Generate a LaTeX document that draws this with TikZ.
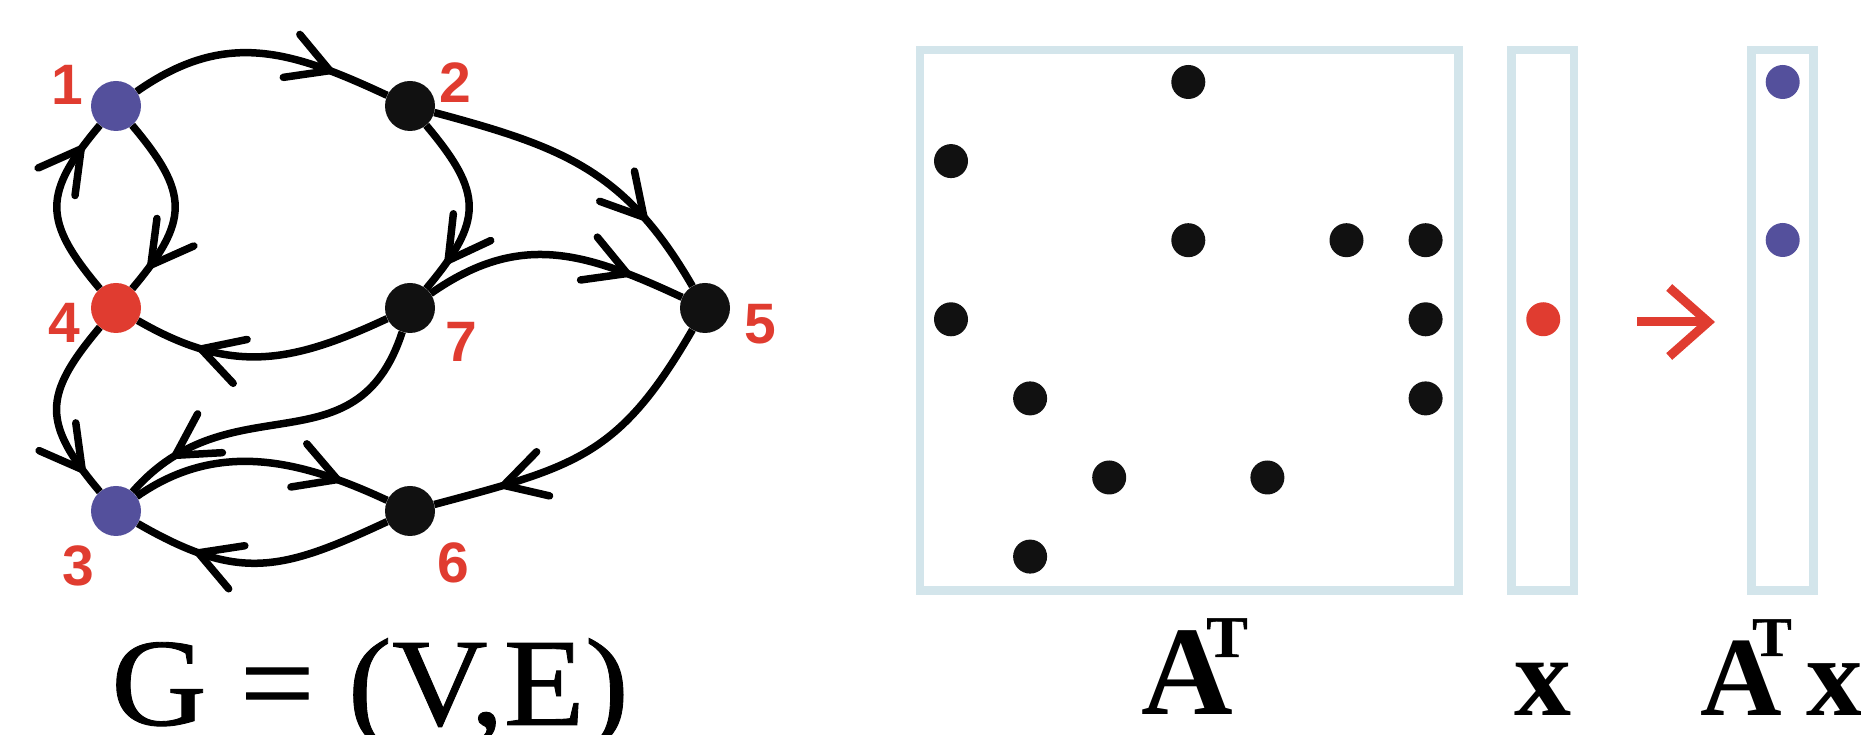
\documentclass[tikz,border=0pt]{standalone}
\usepackage{fontspec}
\setmainfont{Liberation Serif}
\newfontfamily\numfont{Liberation Sans}
\newfontfamily\gfont{Liberation Serif}[FakeBold=0.7, FakeStretch=1.06]
\usetikzlibrary{positioning, arrows.meta, decorations.markings}

\definecolor{vblue}{HTML}{54509C}
\definecolor{vred}{HTML}{E03C30}
\definecolor{boxblue}{HTML}{D3E5EB}
\definecolor{dotblack}{HTML}{111111}

\begin{document}
\begin{tikzpicture}[x=1pt, y=1pt, node distance=294pt,
    vtx/.style={circle, fill=dotblack, minimum size=50pt, inner sep=0pt},
    num/.style={text=vred, font=\numfont\bfseries\fontsize{57}{57}\selectfont, inner sep=0pt},
    link/.style={line width=7.5pt, postaction={decorate},
      decoration={markings, mark=at position #1 with {\arrow{Straight Barb[round, length=41pt, width=46pt]}}}},
    vecbox/.style={draw=boxblue, line width=8.5pt, inner sep=0pt},
    big/.style={inner sep=0pt, anchor=base west, font=\fontsize{#1}{#1}\selectfont}]
        \useasboundingbox (0,0) rectangle (1861,735);

        % Nodes
        \node[vtx, fill=vblue] (v1) at (116,629) {};
        \node[vtx] (v2) [right of=v1] {};
        \node[vtx, fill=vred] (v4) [node distance=202pt, below of=v1] {};
        \node[vtx] (v7) [right of=v4] {};
        \node[vtx] (v5) [node distance=295pt, right of=v7] {};
        \node[vtx, fill=vblue] (v3) [node distance=203pt, below of=v4] {};
        \node[vtx] (v6) [right of=v3] {};

        \node[num] (l1) at ([shift={(-49,21)}]v1) {1};
        \node[num] (l2) at ([shift={(45,23)}]v2) {2};
        \node[num] (l3) at ([shift={(-38,-55)}]v3) {3};
        \node[num] (l4) at ([shift={(-52,-15)}]v4) {4};
        \node[num] (l5) at ([shift={(55,-16)}]v5) {5};
        \node[num] (l6) at ([shift={(43,-52)}]v6) {6};
        \node[num] (l7) at ([shift={(51,-34)}]v7) {7};

        % Arrows
        \draw[link=0.78] (v1) to[out=35, in=155, looseness=1.1] (v2);
        \draw[link=0.86] (v1) to[out=-50, in=50, looseness=1.4] (v4);
        \draw[link=0.86] (v4) to[out=130, in=-130, looseness=1.4] (v1);
        \draw[link=0.83] (v2) to[out=-50, in=50, looseness=1.4] (v7);
        \draw[link=0.75] (v2) to[out=-15, in=120, looseness=1.1] (v5);
        \draw[link=0.79] (v7) to[out=35, in=155, looseness=1.1] (v5);
        \draw[link=0.75] (v7) to[out=-155, in=-30, looseness=1.1] (v4);
        \draw[link=0.87] (v4) to[out=-130, in=130, looseness=1.4] (v3);
        \draw[link=0.84] (v7) to[out=-108, in=49, looseness=1.22] (v3);
        \draw[link=0.81] (v3) to[out=35, in=155, looseness=1.0] (v6);
        \draw[link=0.76] (v6) to[out=-155, in=-30, looseness=1.2] (v3);
        \draw[link=0.79] (v5) to[out=-120, in=15, looseness=1.2] (v6);

        % Matrix and vectors
        \node[vecbox, minimum width=538.5pt, minimum height=540.5pt] (mat) at (1189.25,414.75) {};
        \node[vecbox, minimum width=62.5pt, minimum height=540.5pt] (xvec) at (1542.75,414.75) {};
        \node[vecbox, minimum width=61.8pt, minimum height=540.5pt] (yvec) at (1782.6,414.75) {};
        \foreach \r/\c in {1/4, 2/1, 3/4, 3/6, 3/7, 4/1, 4/7, 5/2, 5/7, 6/3, 6/5, 7/2}
            \fill[dotblack] (871.9+79.1*\c, 732.1-79.1*\r) circle (17pt);
        \fill[vred] (xvec.center) ++(0.5,1) circle (17pt);
        \fill[vblue] (1782.7,653) circle (17pt);
        \fill[vblue] (1782.7,495) circle (17pt);

        \coordinate (arrL) at (1637,413);
        \coordinate (arrR) at (1715,413);
        \draw[vred, line width=9pt, -{Straight Barb[length=39pt, width=69pt]}] (arrL) -- (arrR);

        % Labels
        \node[big=125] (gname) at (111,10) {\gfont G = (V,E)};
        \node[big=127] (matname) at (1141,20) {\bfseries A\kern-26.7pt\raisebox{58pt}{\gfont\fontsize{59}{59}\selectfont T}};
        \node[big=114] (xname) at (1514,19) {\bfseries x};
        \node[big=113] (yname) at (1700,19) {\bfseries A\kern-29.6pt\raisebox{60pt}{\gfont\fontsize{56}{56}\selectfont T}\kern14.8pt x};
\end{tikzpicture}
\end{document}
